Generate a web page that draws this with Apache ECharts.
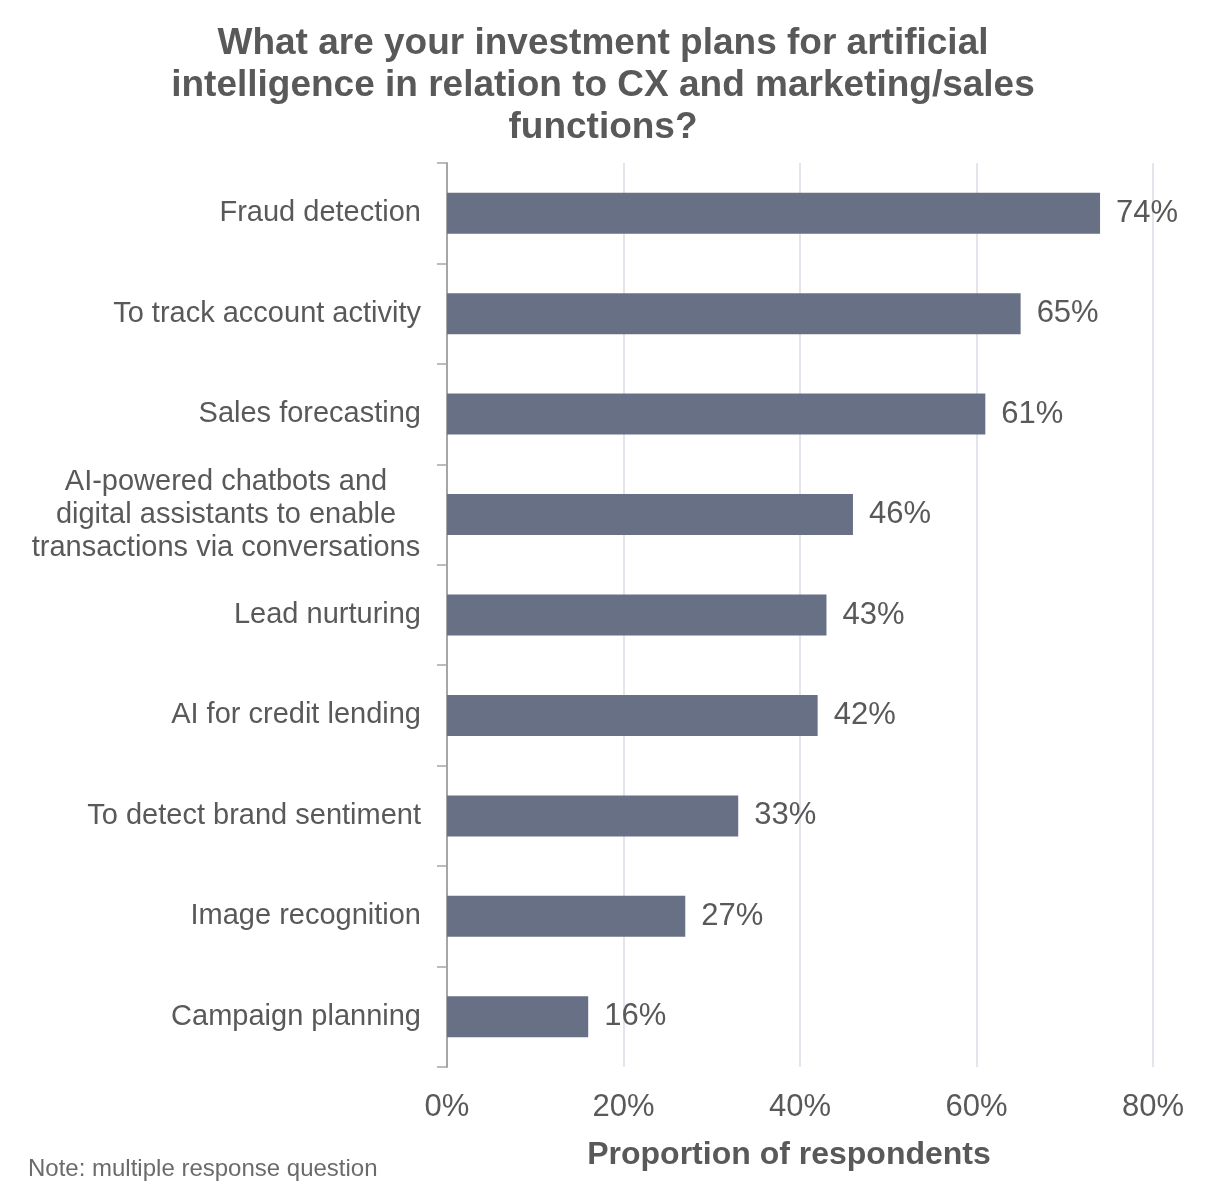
<!DOCTYPE html>
<html>
<head>
<meta charset="utf-8">
<script src="https://cdn.jsdelivr.net/npm/echarts@6/dist/echarts.min.js"></script>
<style>
  html, body { margin: 0; padding: 0; background: #fff; }
  #chart { width: 1224px; height: 1186px; }
</style>
</head>
<body>
<div id="chart"></div>
<script>
// Survey categories, top to bottom
const categories = [
  'Fraud detection',
  'To track account activity',
  'Sales forecasting',
  'AI-powered chatbots and\ndigital assistants to enable\ntransactions via conversations',
  'Lead nurturing',
  'AI for credit lending',
  'To detect brand sentiment',
  'Image recognition',
  'Campaign planning'
];
// Share of respondents (%)
const shares = [74, 65, 61, 46, 43, 42, 33, 27, 16];
const xTicks = [0, 20, 40, 60, 80];

const FONT = '"Liberation Sans", Arial, sans-serif';
const TEXT = '#595959';

// Multi-line category names are centred as a block, right-aligned to the axis
const categoryItems = categories.map(function (name) {
  if (name.indexOf('\n') < 0) return name;
  return { value: name, textStyle: { align: 'center', padding: [0, 390, 0, 0] } };
});

const chart = echarts.init(document.getElementById('chart'), null, { renderer: 'canvas' });
chart.setOption({
  backgroundColor: '#ffffff',
  animation: false,
  title: {
    text: 'What are your investment plans for artificial\nintelligence in relation to CX and marketing/sales\nfunctions?',
    left: 598,
    top: 18,
    textAlign: 'center',
    textStyle: { fontFamily: FONT, fontSize: 37, fontWeight: 'bold', color: TEXT, lineHeight: 42 }
  },
  graphic: [{
    type: 'text',
    left: 28,
    top: 1157,
    style: { text: 'Note: multiple response question', fontFamily: FONT, fontSize: 24, fill: '#6b6b6b' }
  }],
  grid: { left: 447, right: 71, top: 163, bottom: 119, containLabel: false },
  xAxis: {
    type: 'value',
    min: xTicks[0],
    max: xTicks[xTicks.length - 1],
    interval: 20,
    name: 'Proportion of respondents',
    nameLocation: 'middle',
    nameGap: 72,
    nameTextStyle: { fontFamily: FONT, fontSize: 32, fontWeight: 'bold', color: TEXT, padding: [0, 22, 0, 0] },
    axisLine: { show: false },
    axisTick: { show: false },
    axisLabel: { formatter: '{value}%', fontFamily: FONT, fontSize: 31, color: TEXT, margin: 25 },
    splitLine: { show: true, lineStyle: { color: '#d9dce4', width: 1.5 } }
  },
  yAxis: {
    type: 'category',
    data: categoryItems,
    inverse: true,
    axisLine: { show: true, lineStyle: { color: '#a6a6a6', width: 2 } },
    axisTick: { show: true, length: 10, inside: false, alignWithLabel: false, lineStyle: { color: '#a6a6a6', width: 1.5 } },
    axisLabel: { fontFamily: FONT, fontSize: 29, color: TEXT, margin: 26, lineHeight: 33, align: 'right' }
  },
  series: [{
    type: 'bar',
    data: shares,
    barWidth: 41,
    itemStyle: { color: '#687085' },
    label: {
      show: true,
      position: 'right',
      distance: 16,
      formatter: '{c}%',
      fontFamily: FONT,
      fontSize: 31,
      color: TEXT
    }
  }]
});
</script>
</body>
</html>
